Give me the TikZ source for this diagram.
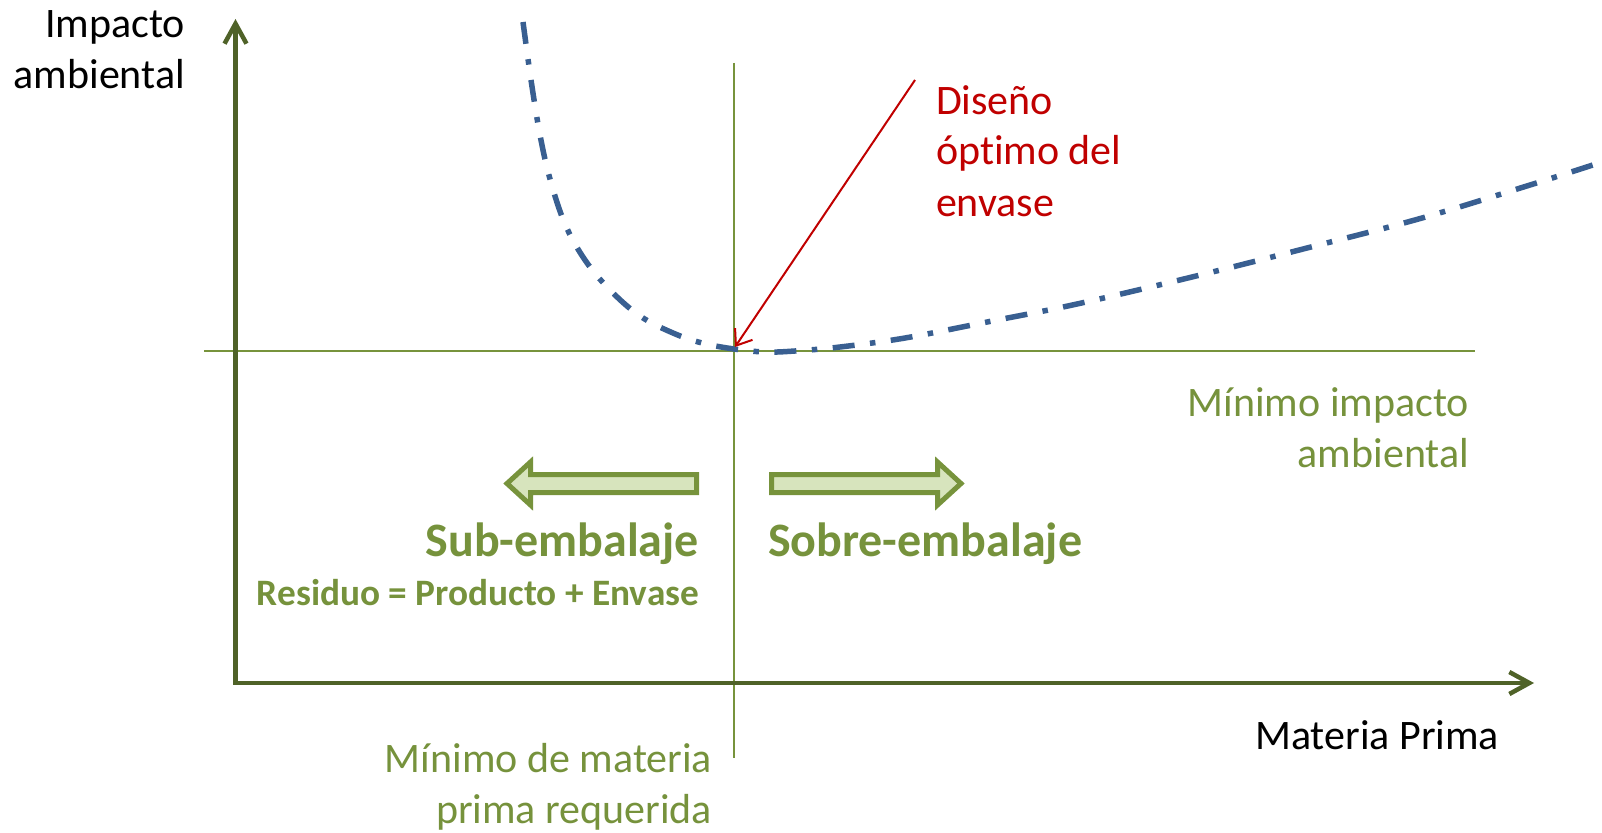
\documentclass[tikz,border=0pt]{standalone}
\usepackage{fontspec}
\setmainfont{Carlito}[Ligatures={NoCommon}]
\usetikzlibrary{arrows.meta}
\definecolor{axisgreen}{HTML}{4F6228}
\definecolor{txtgreen}{HTML}{76923C}
\definecolor{linegreen}{HTML}{77933C}
\definecolor{curveblue}{HTML}{395F91}
\definecolor{optred}{HTML}{C00000}
\definecolor{arrowfill}{HTML}{D7E4BD}
\newcommand{\mlines}[2]{\begin{tabular}[t]{@{}#1@{}}#2\end{tabular}}
\begin{document}
\begin{tikzpicture}[x=1pt,y=-1pt,
  lbl/.style={inner sep=0pt, outer sep=0pt, font=\fontsize{42}{51}\selectfont},
  bigbold/.style={inner sep=0pt, outer sep=0pt, text=txtgreen, font=\fontsize{48}{58}\selectfont\bfseries},
  smallbold/.style={inner sep=0pt, outer sep=0pt, text=txtgreen, font=\fontsize{37.3}{45}\selectfont\bfseries},
  axisline/.style={draw=axisgreen, line width=4.5pt, line join=miter},
  guide/.style={draw=linegreen, line width=2.2pt},
  blockarrow/.style={draw=linegreen, fill=arrowfill, line width=5pt, line join=miter},
  curvestyle/.style={draw=curveblue, line width=5.5pt, dash pattern=on 22pt off 15.5pt on 5.5pt off 15.5pt},
  pointer/.style={draw=optred, line width=2pt, -{Straight Barb[length=14pt,width=21pt]}}
]
\useasboundingbox (0,0) rectangle (1602,832);

% guide lines
\coordinate (vtop) at (734,63);
\coordinate (vbot) at (734,758);
\coordinate (hleft) at (204,351);
\coordinate (hright) at (1475,351);
\draw[guide] (vtop) -- (vbot);
\draw[guide] (hleft) -- (hright);

% axes
\coordinate (ytop) at (235.5,19);
\coordinate (O) at (235.5,683);
\coordinate (xend) at (1534,683);
\draw[axisline, {Straight Barb[length=20pt,width=22pt]}-{Straight Barb[length=20pt,width=22pt]}] (ytop) -- (O) -- (xend);

% curve
\draw[curvestyle] plot[smooth, tension=0.6] coordinates {
 (523,22) (531,80) (540,135) (550,179) (565,224) (585,260) (610,290)
 (640,316) (673,333) (702,343) (734,349) (765,352) (795,351) (840,347)
 (905,338) (987,322) (1077,304) (1192,277) (1307,248) (1422,218)
 (1530,185) (1599,163)};

% block arrows
\draw[blockarrow] (696.5,474.5) -- (530.5,474.5) -- (530.5,462) -- (507,483.5)
  -- (530.5,505) -- (530.5,492.5) -- (696.5,492.5) -- cycle;
\draw[blockarrow] (771.5,474.5) -- (937.5,474.5) -- (937.5,462) -- (961,483.5)
  -- (937.5,505) -- (937.5,492.5) -- (771.5,492.5) -- cycle;

% labels
\node[lbl, anchor=base east] (ylabel) at (185,38) {\mlines{r}{Impacto\\ambiental}};
\node[lbl, anchor=base west, text=optred] (optlabel) at (936,114) {\mlines{l}{Diseño\\ópt\kern0pt imo del\\envase}};
\node[lbl, anchor=base east, text=txtgreen] (minimpact) at (1469,416) {\mlines{r}{Mínimo impacto\\ambiental}};
\node[bigbold, anchor=base east] (sub) at (699,556) {Sub-embalaje};
\node[smallbold, anchor=base east] (residuo) at (699,605) {Residuo = Producto + Envase};
\node[bigbold, anchor=base west] (sobre) at (768,556) {Sobre-embalaje};
\node[lbl, anchor=base east] (xlabel) at (1499,749) {Materia Prima};
\node[lbl, anchor=base east, text=txtgreen] (minmat) at (712,772) {\mlines{r}{Mínimo de materia\\prima requerida}};

% pointer
\coordinate (redstart) at (915,80);
\coordinate (opt) at (735,347);
\draw[pointer] (redstart) -- (opt);
\end{tikzpicture}
\end{document}
